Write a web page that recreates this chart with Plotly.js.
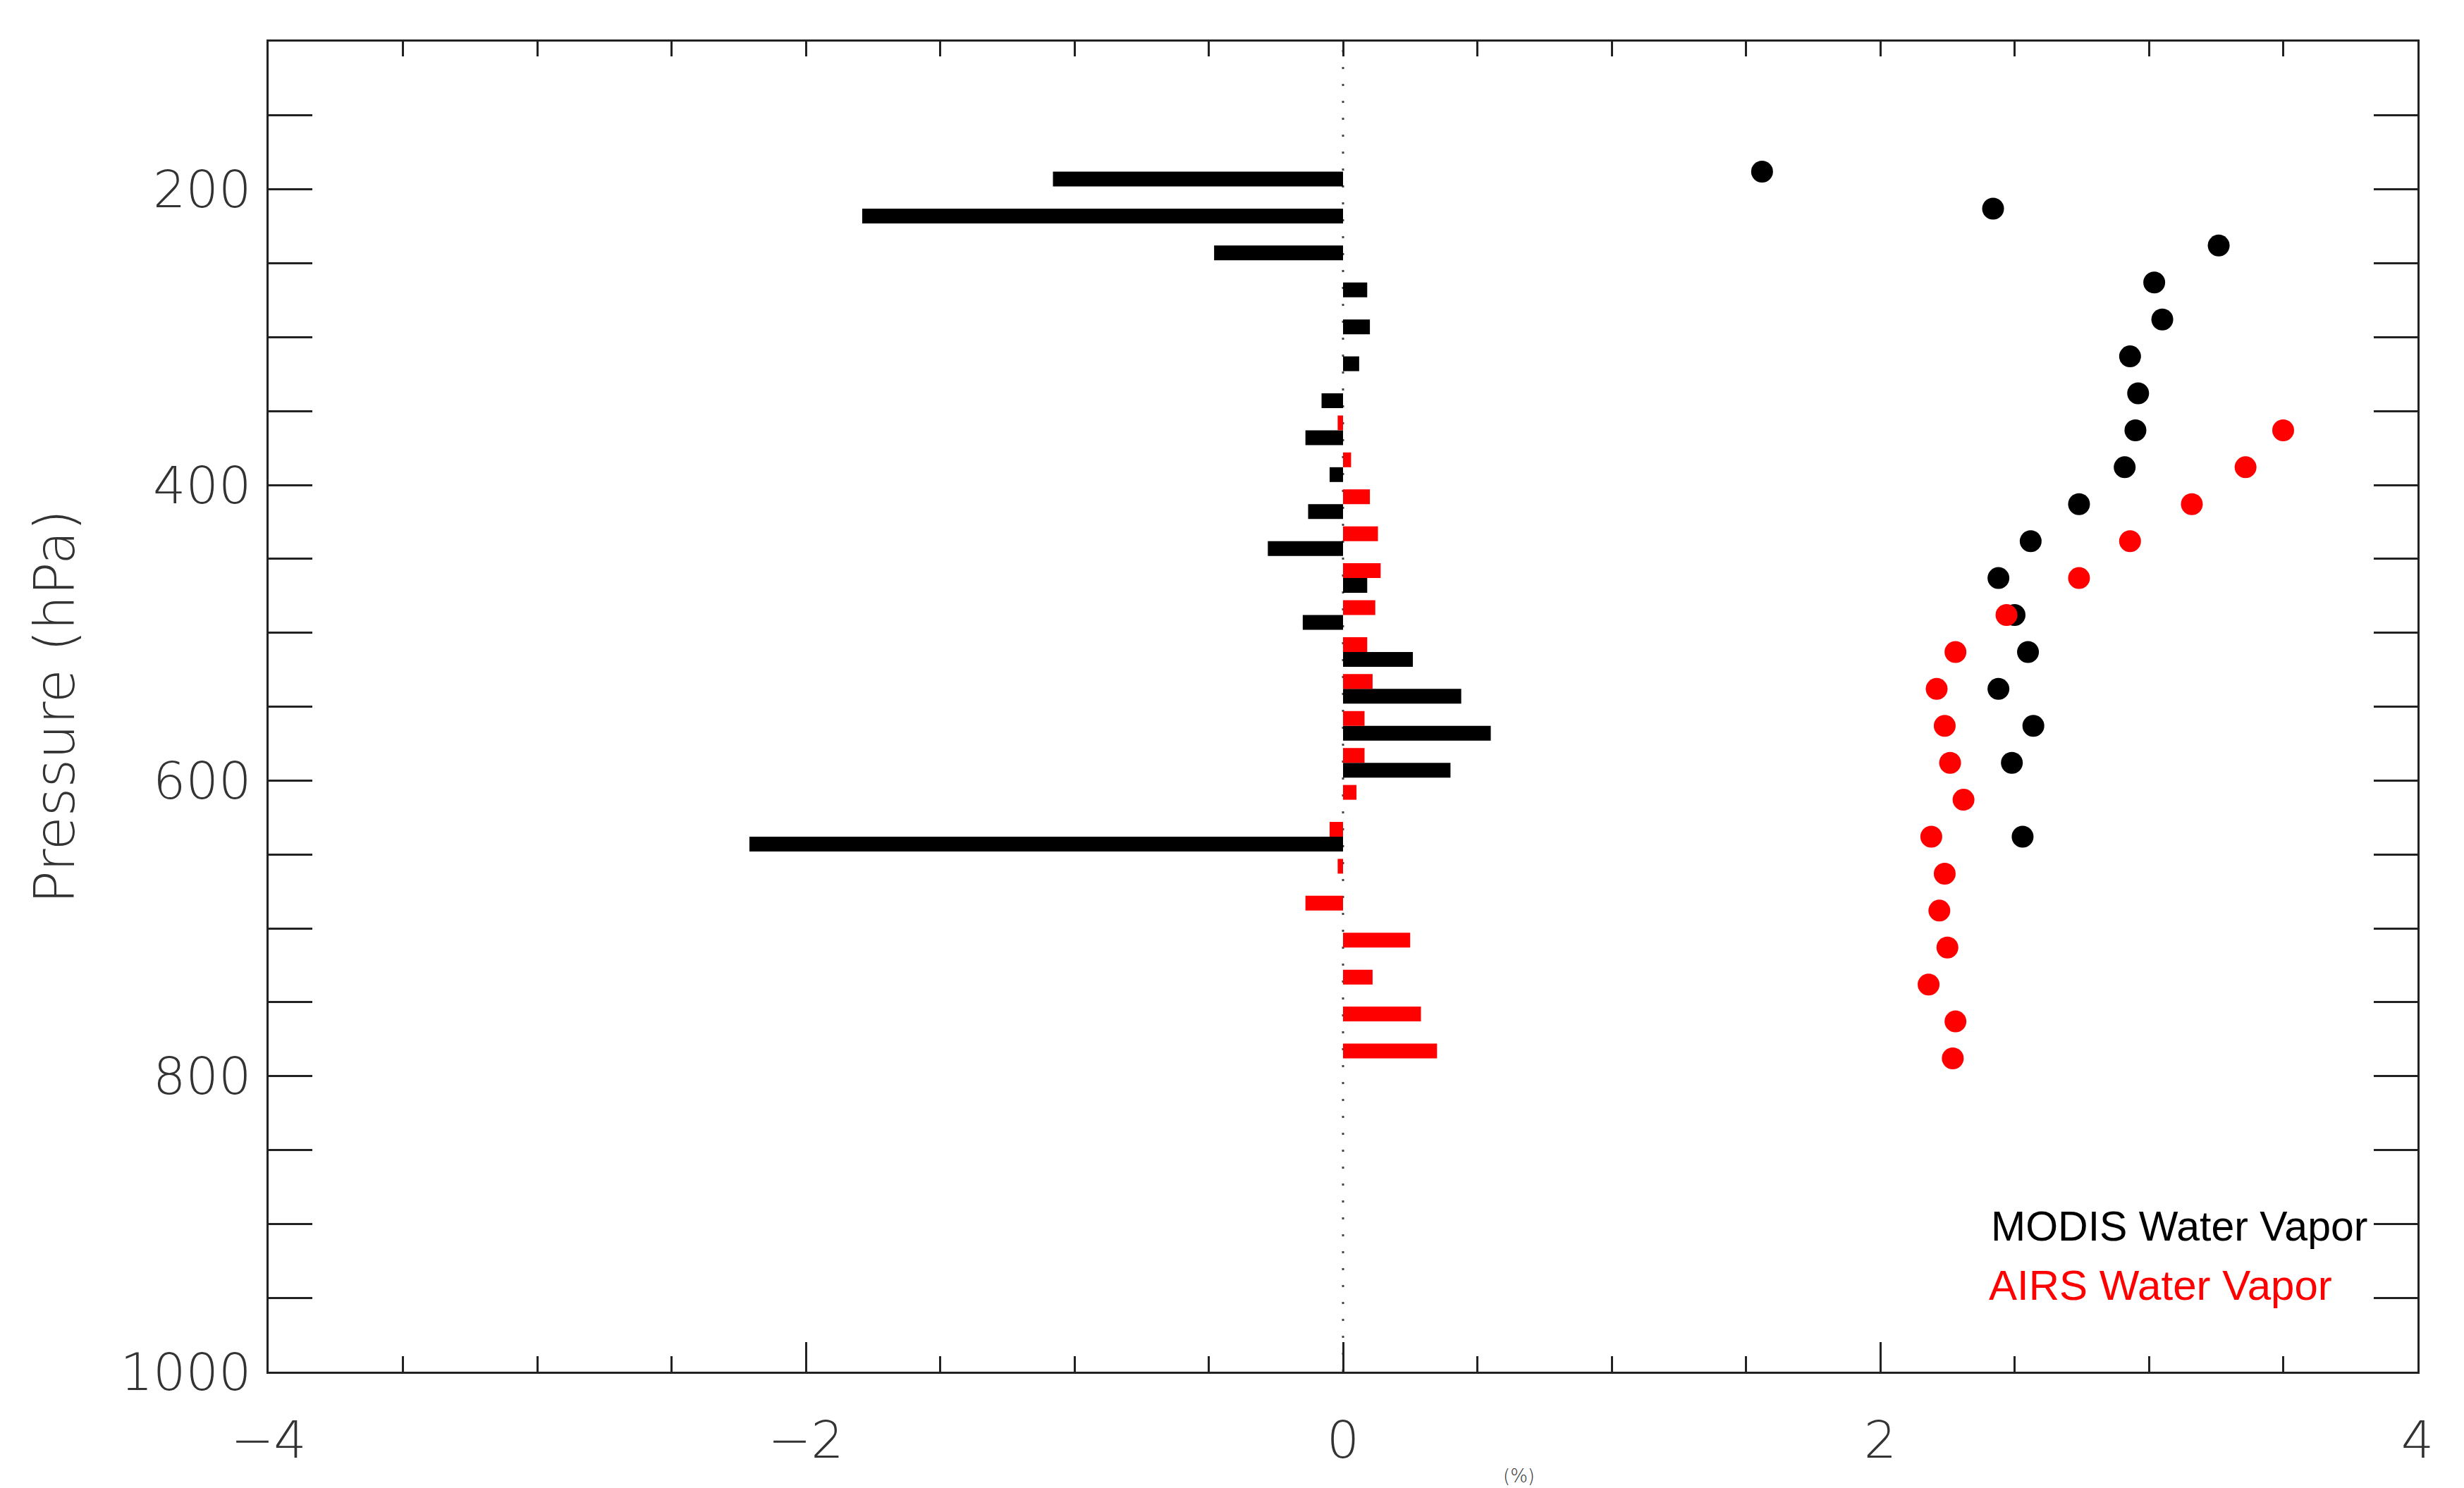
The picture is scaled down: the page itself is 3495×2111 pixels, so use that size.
<!DOCTYPE html>
<html>
<head>
<meta charset="utf-8">
<script src="https://cdn.plot.ly/plotly-3.0.1.min.js"></script>
<style>
  html, body { margin: 0; padding: 0; background: #fff; }
  #chart { width: 3495px; height: 2111px; }
</style>
</head>
<body>
<div id="chart"></div>
<script>
// pressure levels (hPa)
const modisLevels = [188, 213, 238, 263, 288, 313, 338, 363, 388, 413, 438, 463, 488, 513, 538, 563, 588, 638];
const airsLevels = [363, 388, 413, 438, 463, 488, 513, 538, 563, 588, 613, 638, 663, 688, 713, 738, 763, 788];

// dots
const modisDots = [1.56, 2.42, 3.26, 3.02, 3.05, 2.93, 2.96, 2.95, 2.91, 2.74, 2.56, 2.44, 2.50, 2.55, 2.44, 2.57, 2.49, 2.53];
const airsDots = [3.50, 3.36, 3.16, 2.93, 2.74, 2.47, 2.28, 2.21, 2.24, 2.26, 2.31, 2.19, 2.24, 2.22, 2.25, 2.18, 2.28, 2.27];

// bars
const modisBars = [-1.08, -1.79, -0.48, 0.09, 0.10, 0.06, -0.08, -0.14, -0.05, -0.13, -0.28, 0.09, -0.15, 0.26, 0.44, 0.55, 0.40, -2.21];
const airsBars = [-0.02, 0.03, 0.10, 0.13, 0.14, 0.12, 0.09, 0.11, 0.08, 0.08, 0.05, -0.05, -0.02, -0.14, 0.25, 0.11, 0.29, 0.35];

const legendNames = ['MODIS Water Vapor', 'AIRS Water Vapor'];
const COLORS = { modis: '#000000', airs: '#ff0000' };

const TICK_FONT = { family: '"DejaVu Sans", sans-serif', size: 73, color: '#333333', weight: 300 };
const AXIS_COLOR = '#222222';

const traces = [
  {
    type: 'bar', orientation: 'h',
    x: modisBars, y: modisLevels,
    width: 10, offset: 0,
    marker: { color: COLORS.modis, line: { width: 0 } },
    showlegend: false,
  },
  {
    type: 'bar', orientation: 'h',
    x: airsBars, y: airsLevels,
    width: 10, offset: -10,
    marker: { color: COLORS.airs, line: { width: 0 } },
    showlegend: false,
  },
  {
    type: 'scatter', mode: 'markers',
    x: modisDots, y: modisLevels,
    marker: { color: COLORS.modis, size: 31 },
    showlegend: false,
  },
  {
    type: 'scatter', mode: 'markers',
    x: airsDots, y: airsLevels,
    marker: { color: COLORS.airs, size: 31 },
    showlegend: false,
  },
  // keeps the top axis alive
  { type: 'scatter', x: [], y: [], xaxis: 'x2', showlegend: false, hoverinfo: 'skip' },
];

const layout = {
  width: 3495,
  height: 2111,
  paper_bgcolor: '#ffffff',
  plot_bgcolor: '#ffffff',
  margin: { l: 381, r: 66, t: 59, b: 165 },
  barmode: 'overlay',
  showlegend: false,
  xaxis: {
    range: [-4, 4],
    tick0: 0, dtick: 2,
    ticks: 'inside', ticklen: 42, tickwidth: 3, tickcolor: AXIS_COLOR,
    minor: { dtick: 0.5, ticks: 'inside', ticklen: 22, tickwidth: 3, tickcolor: AXIS_COLOR },
    showline: true, linewidth: 3, linecolor: AXIS_COLOR,
    showgrid: false, zeroline: false,
    tickfont: TICK_FONT,
    ticklabelstandoff: 31,
  },
  xaxis2: {
    overlaying: 'x', side: 'top',
    range: [-4, 4],
    tick0: 0, dtick: 0.5,
    ticks: 'inside', ticklen: 21, tickwidth: 3, tickcolor: AXIS_COLOR,
    showticklabels: false,
    showline: true, linewidth: 3, linecolor: AXIS_COLOR,
    showgrid: false, zeroline: false,
  },
  yaxis: {
    range: [1000, 100],
    tick0: 0, dtick: 200,
    ticks: 'inside', ticklen: 62, tickwidth: 3, tickcolor: AXIS_COLOR,
    minor: { dtick: 50, ticks: 'inside', ticklen: 31, tickwidth: 3, tickcolor: AXIS_COLOR },
    mirror: 'allticks',
    showline: true, linewidth: 3, linecolor: AXIS_COLOR,
    showgrid: false, zeroline: false,
    tickfont: TICK_FONT,
    ticklabelstandoff: 7,
    title: { text: 'Pressure (hPa)', font: { ...TICK_FONT, size: 78 }, standoff: 40 },
  },
  shapes: [
    {
      type: 'line', xref: 'x', yref: 'paper',
      x0: 0, x1: 0, y0: 0, y1: 1,
      line: { color: '#444444', width: 3, dash: '3px,21px' },
      layer: 'below',
    },
  ],
  annotations: [
    {
      xref: 'paper', yref: 'paper', x: 0.801, y: 0.109,
      xanchor: 'left', yanchor: 'middle', showarrow: false,
      text: legendNames[0],
      font: { family: '"Liberation Sans", Arial, sans-serif', size: 59, color: COLORS.modis },
    },
    {
      xref: 'paper', yref: 'paper', x: 0.800, y: 0.065,
      xanchor: 'left', yanchor: 'middle', showarrow: false,
      text: legendNames[1],
      font: { family: '"Liberation Sans", Arial, sans-serif', size: 60, color: COLORS.airs },
    },
    {
      // x-axis unit, mostly below the frame in the source image
      xref: 'paper', yref: 'paper', x: 0.582, y: -0.0874,
      xanchor: 'center', yanchor: 'bottom', showarrow: false,
      text: '(%)',
      font: { ...TICK_FONT, size: 26 },
    },
  ],
};

Plotly.newPlot('chart', traces, layout, { displayModeBar: false, staticPlot: true });
</script>
</body>
</html>
